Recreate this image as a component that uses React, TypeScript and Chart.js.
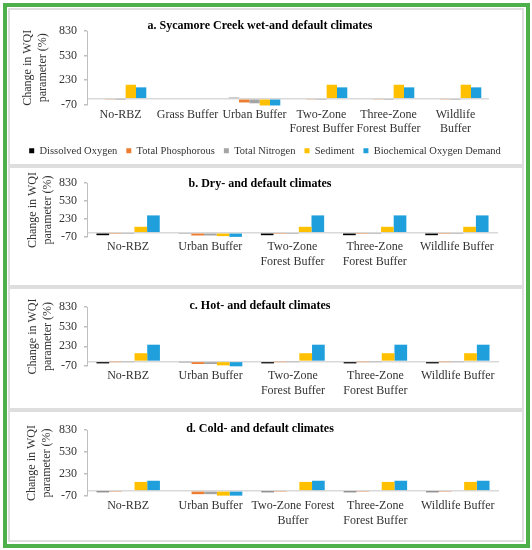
import React, { useEffect, useRef } from "react";
import { Chart, registerables } from "chart.js";

Chart.register(...registerables);

const FONT = '"Liberation Serif", "Times New Roman", serif';

const seriesNames = [
  "Dissolved Oxygen",
  "Total Phosphorous",
  "Total Nitrogen",
  "Sediment",
  "Biochemical Oxygen Demand",
];
const seriesColors = ["#000000", "#ED7D31", "#A5A5A5", "#FFC000", "#1F9FDB"];
const yTicks = [-70, 0, 230, 530, 830];
const yTitle = ["Change in WQI", "parameter (%)"];

// a. Sycamore Creek wet- and default climates
const catsA = ["No-RBZ", "Grass Buffer", "Urban Buffer", ["Two-Zone", "Forest Buffer"], ["Three-Zone", "Forest Buffer"], ["Wildlife", "Buffer"]];
const doA = [0, 0, 12, 0, 0, 0];
const tpA = [-12, 0, -45, -12, -12, -12];
const tnA = [-1, 0, -55, -3, -3, -3];
const sedA = [172, 0, -82, 172, 172, 172];
const bodA = [140, 0, -82, 140, 140, 140];

// b. Dry- and default climates
const catsB = ["No-RBZ", "Urban Buffer", ["Two-Zone", "Forest Buffer"], ["Three-Zone", "Forest Buffer"], "Wildlife Buffer"];
const doB = [-40, -10, -40, -40, -40];
const tpB = [-5, -45, -5, -5, -5];
const tnB = [-3, -45, -3, -3, -3];
const sedB = [100, -55, 100, 100, 100];
const bodB = [290, -68, 290, 290, 290];

// c. Hot- and default climates
const catsC = ["No-RBZ", "Urban Buffer", ["Two-Zone", "Forest Buffer"], ["Three-Zone", "Forest Buffer"], "Wildlife Buffer"];
const doC = [-30, -8, -30, -30, -30];
const tpC = [-5, -40, -5, -5, -5];
const tnC = [-3, -40, -3, -3, -3];
const sedC = [125, -60, 125, 125, 125];
const bodC = [255, -75, 255, 255, 255];

// d. Cold- and default climates
const catsD = ["No-RBZ", "Urban Buffer", ["Two-Zone Forest", "Buffer"], ["Three-Zone", "Forest Buffer"], "Wildlife Buffer"];
const doD = [-18, 0, -18, -18, -18];
const tpD = [-15, -45, -15, -15, -15];
const tnD = [0, -45, 0, 0, 0];
const sedD = [122, -65, 122, 122, 122];
const bodD = [138, -65, 138, 138, 138];

type PanelCfg = {
  title: string;
  titleY: number;
  cats: any[];
  series: number[][];
  left: number;
  top: number;
  w: number;
  h: number;
  yW: number;
  rightW: number;
  padTop: number;
  xH: number;
  yTitlePad: number;
  legend: boolean;
};

const panels: PanelCfg[] = [
  {
    title: "a. Sycamore Creek wet-and default climates",
    titleY: 25,
    cats: catsA,
    series: [doA, tpA, tnA, sedA, bodA],
    left: 8, top: 9, w: 514, h: 157,
    yW: 79, rightW: 33, padTop: 22, xH: 32, yTitlePad: 13, legend: true,
  },
  {
    title: "b. Dry- and default climates",
    titleY: 183,
    cats: catsB,
    series: [doB, tpB, tnB, sedB, bodB],
    left: 8, top: 168, w: 514, h: 109,
    yW: 79, rightW: 24, padTop: 15, xH: 40, yTitlePad: 18, legend: false,
  },
  {
    title: "c. Hot- and default climates",
    titleY: 305,
    cats: catsC,
    series: [doC, tpC, tnC, sedC, bodC],
    left: 8, top: 289, w: 514, h: 117,
    yW: 79, rightW: 23, padTop: 18, xH: 40, yTitlePad: 18, legend: false,
  },
  {
    title: "d. Cold- and default climates",
    titleY: 428,
    cats: catsD,
    series: [doD, tpD, tnD, sedD, bodD],
    left: 8, top: 412, w: 514, h: 124,
    yW: 79, rightW: 23, padTop: 18, xH: 40, yTitlePad: 17, legend: false,
  },
];

function BarPanel({ cfg }: { cfg: PanelCfg }) {
  const ref = useRef<HTMLCanvasElement>(null);
  useEffect(() => {
    const textColor = "#333333";
    const chart = new Chart(ref.current as HTMLCanvasElement, {
      type: "bar",
      data: {
        labels: cfg.cats,
        datasets: cfg.series.map((d, i) => ({
          label: seriesNames[i],
          data: d,
          backgroundColor: seriesColors[i],
          borderWidth: 0,
          categoryPercentage: 0.77,
          barPercentage: 1.0,
          clip: false as any,
        })),
      },
      options: {
        responsive: false,
        animation: false,
        layout: { padding: { top: cfg.padTop, right: 0, bottom: 0, left: 0 } },
        plugins: {
          legend: cfg.legend
            ? {
                display: true,
                position: "bottom",
                labels: {
                  boxWidth: 5,
                  boxHeight: 5,
                  padding: 9,
                  color: textColor,
                  font: { family: FONT, size: 10.5 },
                },
              }
            : { display: false },
          tooltip: { enabled: false },
          title: { display: false },
        },
        scales: {
          x: {
            grid: { display: false, drawTicks: false },
            border: { display: false },
            ticks: {
              color: textColor,
              font: { family: FONT, size: 12 },
              padding: 3,
              maxRotation: 0,
              autoSkip: false,
            },
            afterFit: (s: any) => {
              s.height = cfg.xH;
            },
          },
          y: {
            min: -70,
            max: 830,
            afterBuildTicks: (s: any) => {
              s.ticks = yTicks.map((v) => ({ value: v }));
            },
            ticks: {
              callback: (v: any) => (v === 0 ? "" : String(v)),
              autoSkip: false,
              padding: 7,
              color: textColor,
              font: { family: FONT, size: 12 },
            },
            grid: {
              color: (ctx: any) => (ctx.tick && ctx.tick.value === 0 ? "#D9D9D9" : "rgba(0,0,0,0)"),
              lineWidth: 1.5,
              tickColor: (ctx: any) => (ctx.tick && ctx.tick.value === 0 ? "rgba(0,0,0,0)" : "#BFBFBF"),
              tickLength: 3,
              drawTicks: true,
            },
            border: { display: true, color: "#BFBFBF", width: 1 },
            title: {
              display: true,
              text: yTitle,
              color: textColor,
              font: { family: FONT, size: 12 },
              padding: { top: cfg.yTitlePad, bottom: 0 },
            },
            afterFit: (s: any) => {
              s.width = cfg.yW;
            },
          },
          y2: {
            type: "linear",
            position: "right",
            display: true,
            grid: { display: false, drawTicks: false },
            border: { display: false },
            ticks: { display: false },
            afterFit: (s: any) => {
              s.width = cfg.rightW;
            },
          },
        },
      } as any,
    });
    return () => chart.destroy();
  }, [cfg]);

  return (
    <canvas
      ref={ref}
      width={cfg.w}
      height={cfg.h}
      style={{ position: "absolute", left: cfg.left, top: cfg.top, width: cfg.w, height: cfg.h }}
    />
  );
}

export default function App() {
  const panelBoxes = [
    { top: 8, h: 158 },
    { top: 166, h: 121 },
    { top: 287, h: 123 },
    { top: 410, h: 132 },
  ];
  return (
    <div
      style={{
        position: "fixed",
        left: 0,
        top: 0,
        width: 532,
        height: 550,
        background: "#ffffff",
        fontFamily: FONT,
        overflow: "hidden",
      }}
    >
      <div
        style={{
          position: "absolute",
          left: 3,
          top: 3,
          width: 527,
          height: 545,
          boxSizing: "border-box",
          border: "4px solid #4DB04A",
        }}
      />
      {panelBoxes.map((b, i) => (
        <div
          key={"box" + i}
          style={{
            position: "absolute",
            left: 8,
            top: b.top,
            width: 516,
            height: b.h,
            boxSizing: "border-box",
            border: "2px solid #DEDEDE",
          }}
        />
      ))}
      {panels.map((p, i) => (
        <BarPanel key={"p" + i} cfg={p} />
      ))}
      {panels.map((p, i) => (
        <div
          key={"t" + i}
          style={{
            position: "absolute",
            left: 0,
            width: 520,
            top: p.titleY - 7,
            height: 14,
            lineHeight: "14px",
            textAlign: "center",
            fontWeight: "bold",
            fontSize: 12,
            color: "#000000",
            fontFamily: FONT,
            whiteSpace: "nowrap",
          }}
        >
          {p.title}
        </div>
      ))}
    </div>
  );
}
